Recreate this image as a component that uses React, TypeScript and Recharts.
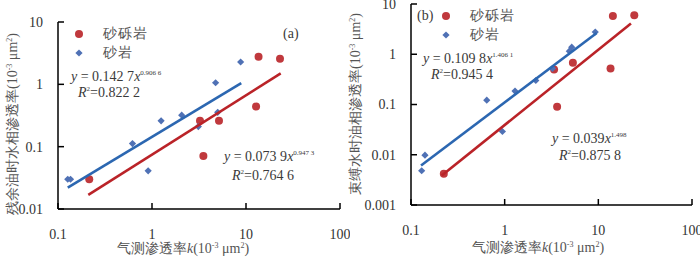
import React from 'react';
import { ScatterChart, Scatter, XAxis, YAxis, Legend } from 'recharts';

// gas-measured permeability k (10^-3 μm²)
const xTicks = [0.1, 1, 10, 100];
const yTicksA = [0.01, 0.1, 1, 10];
const yTicksB = [0.001, 0.01, 0.1, 1, 10];

// (a) water relative permeability at residual oil
const gravelKA = [0.215, 3.24, 3.52, 5.16, 12.8, 13.6, 23.0];
const gravelKwA = [0.03, 0.26, 0.071, 0.26, 0.44, 2.78, 2.58];
const sandKA = [0.127, 0.136, 0.62, 0.91, 1.25, 2.07, 3.11, 4.75, 5.0, 8.77];
const sandKwA = [0.03, 0.03, 0.112, 0.041, 0.26, 0.32, 0.21, 1.06, 0.356, 2.28];
const sandFitXA = [0.127, 8.9];
const sandFitYA = [0.022, 1.05];
const gravelFitXA = [0.21, 23.4];
const gravelFitYA = [0.0168, 1.5];

// (b) oil relative permeability at irreducible water
const gravelKB = [0.224, 3.37, 3.63, 5.35, 13.5, 14.3, 24.2];
const gravelKoB = [0.0042, 0.5, 0.09, 0.68, 0.52, 5.77, 5.95];
const sandKB = [0.13, 0.141, 0.644, 0.946, 1.29, 2.15, 3.24, 4.9, 5.2, 9.27];
const sandKoB = [0.0048, 0.0098, 0.122, 0.029, 0.185, 0.3, 0.52, 1.15, 1.38, 2.77];
const sandFitXB = [0.128, 9.6];
const sandFitYB = [0.0061, 2.64];
const gravelFitXB = [0.213, 22.3];
const gravelFitYB = [0.00385, 4.08];

const RED = '#C0393D';
const BLUE = '#4F71B5';
const RED_LINE = '#BA2328';
const BLUE_LINE = '#2C67B1';
const FONT = '"Liberation Serif"';
const TXT = '#3a3a3a';

const zip = (xs: number[], ys: number[]) => xs.map((x, i) => ({ x, y: ys[i] }));

const Dot = (p: any) => <circle cx={p.cx} cy={p.cy} r={4} fill={RED} />;
const Diamond = (p: any) => (
  <polygon
    points={`${p.cx},${p.cy - 3.6} ${p.cx + 3.6},${p.cy} ${p.cx},${p.cy + 3.6} ${p.cx - 3.6},${p.cy}`}
    fill={BLUE}
  />
);
const NoShape = () => <g />;

const rowStyle: React.CSSProperties = {
  display: 'flex',
  alignItems: 'center',
  whiteSpace: 'nowrap',
  height: 19,
};

const LegendBox = ({ tag }: { tag?: string }) => (
  <div style={{ fontFamily: FONT, fontSize: 14, color: '#555', lineHeight: '19px', width: 120 }}>
    <div style={rowStyle}>
      {tag && <span style={{ width: 24, flexShrink: 0, color: TXT }}>{tag}</span>}
      <svg width={10} height={10} style={{ flexShrink: 0 }}>
        <circle cx={5} cy={5} r={4} fill={RED} />
      </svg>
      <span style={{ marginLeft: 19, letterSpacing: 1 }}>砂砾岩</span>
    </div>
    <div style={rowStyle}>
      {tag && <span style={{ width: 24, flexShrink: 0 }} />}
      <svg width={10} height={10} style={{ flexShrink: 0 }}>
        <polygon points="5,1.4 8.6,5 5,8.6 1.4,5" fill={BLUE} />
      </svg>
      <span style={{ marginLeft: 19, letterSpacing: 1 }}>砂岩</span>
    </div>
  </div>
);

const axisLine = { stroke: '#000', strokeWidth: 1.5 };
const tickStyle = { fill: '#333', fontSize: 14, fontFamily: FONT };

interface PanelProps {
  gravel: { x: number; y: number }[];
  sand: { x: number; y: number }[];
  gravelFit: { x: number; y: number }[];
  sandFit: { x: number; y: number }[];
  yTicks: number[];
  margin: { top: number; right: number; left: number; bottom: number };
  yWidth: number;
  xHeight: number;
  xTickMargin: number;
  legend: React.ReactNode;
  legendPos: { left: number; top: number };
}

function Panel(p: PanelProps) {
  return (
    <ScatterChart width={350} height={257} margin={p.margin}>
      <XAxis
        type="number"
        dataKey="x"
        scale="log"
        domain={[0.1, 100]}
        ticks={xTicks}
        allowDataOverflow
        height={p.xHeight}
        axisLine={axisLine}
        tickLine={axisLine}
        tickSize={-6}
        tickMargin={p.xTickMargin}
        tick={tickStyle}
        interval={0}
      />
      <YAxis
        type="number"
        dataKey="y"
        scale="log"
        domain={[p.yTicks[0], p.yTicks[p.yTicks.length - 1]]}
        ticks={p.yTicks}
        allowDataOverflow
        width={p.yWidth}
        axisLine={axisLine}
        tickLine={axisLine}
        tickSize={-6}
        tickMargin={21}
        tick={tickStyle}
        interval={0}
      />
      {/* centred legend reserves no plot space; it is placed by wrapperStyle */}
      <Legend
        layout="vertical"
        verticalAlign="middle"
        align="center"
        wrapperStyle={{ left: p.legendPos.left, top: p.legendPos.top, width: 140 }}
        content={() => p.legend}
      />
      <Scatter name="砂砾岩" data={p.gravel} shape={Dot} isAnimationActive={false} />
      <Scatter name="砂岩" data={p.sand} shape={Diamond} isAnimationActive={false} />
      <Scatter
        data={p.sandFit}
        line={{ stroke: BLUE_LINE, strokeWidth: 2.6 }}
        shape={NoShape}
        legendType="none"
        isAnimationActive={false}
      />
      <Scatter
        data={p.gravelFit}
        line={{ stroke: RED_LINE, strokeWidth: 2.6 }}
        shape={NoShape}
        legendType="none"
        isAnimationActive={false}
      />
    </ScatterChart>
  );
}

const Unit = () => (
  <>
    (10<tspan dy={-5} fontSize={8}>-3</tspan>
    <tspan dy={5}> μm</tspan>
    <tspan dy={-5} fontSize={8}>2</tspan>
    <tspan dy={5}>)</tspan>
  </>
);

export default function App() {
  return (
    <div style={{ position: 'absolute', left: 0, top: 0, width: 700, height: 257, background: '#fff' }}>
      <div style={{ position: 'absolute', left: 0, top: 0 }}>
        <Panel
          gravel={zip(gravelKA, gravelKwA)}
          sand={zip(sandKA, sandKwA)}
          gravelFit={zip(gravelFitXA, gravelFitYA)}
          sandFit={zip(sandFitXA, sandFitYA)}
          yTicks={yTicksA}
          margin={{ top: 22, right: 10, left: 8, bottom: 0 }}
          yWidth={50}
          xHeight={48}
          xTickMargin={26}
          legend={<LegendBox />}
          legendPos={{ left: 74, top: 24 }}
        />
      </div>
      <div style={{ position: 'absolute', left: 350, top: 0 }}>
        <Panel
          gravel={zip(gravelKB, gravelKoB)}
          sand={zip(sandKB, sandKoB)}
          gravelFit={zip(gravelFitXB, gravelFitYB)}
          sandFit={zip(sandFitXB, sandFitYB)}
          yTicks={yTicksB}
          margin={{ top: 4, right: 8, left: 11, bottom: 0 }}
          yWidth={50}
          xHeight={52}
          xTickMargin={26}
          legend={<LegendBox tag="(b)" />}
          legendPos={{ left: 67, top: 6 }}
        />
      </div>
      <svg
        width={700}
        height={257}
        style={{ position: 'absolute', left: 0, top: 0, pointerEvents: 'none', fontFamily: FONT }}
        fontSize={14}
        fill={TXT}
      >
        {/* panel (a) */}
        <text x={283} y={38}>(a)</text>
        <text x={71} y={81}>
          <tspan fontStyle="italic">y</tspan> = 0.142 7<tspan fontStyle="italic">x</tspan>
          <tspan dy={-6} fontSize={7}>0.906 6</tspan>
        </text>
        <text x={78} y={97}>
          <tspan fontStyle="italic">R</tspan>
          <tspan dy={-6} fontSize={7}>2</tspan>
          <tspan dy={6}>=0.822 2</tspan>
        </text>
        <text x={224} y={161}>
          <tspan fontStyle="italic">y</tspan> = 0.073 9<tspan fontStyle="italic">x</tspan>
          <tspan dy={-6} fontSize={7}>0.947 3</tspan>
        </text>
        <text x={232} y={180}>
          <tspan fontStyle="italic">R</tspan>
          <tspan dy={-6} fontSize={7}>2</tspan>
          <tspan dy={6}>=0.764 6</tspan>
        </text>
        <text x={183} y={253} textAnchor="middle" fill="#555">
          气测渗透率<tspan fontStyle="italic">k</tspan>
          <Unit />
        </text>
        <text transform="translate(17,124) rotate(-90)" textAnchor="middle" fill="#555">
          残余油时水相渗透率<Unit />
        </text>

        {/* panel (b) */}
        <text x={423} y={63}>
          <tspan fontStyle="italic">y</tspan> = 0.109 8<tspan fontStyle="italic">x</tspan>
          <tspan dy={-6} fontSize={7}>1.406 1</tspan>
        </text>
        <text x={431} y={79}>
          <tspan fontStyle="italic">R</tspan>
          <tspan dy={-6} fontSize={7}>2</tspan>
          <tspan dy={6}>=0.945 4</tspan>
        </text>
        <text x={552} y={143}>
          <tspan fontStyle="italic">y</tspan> = 0.039<tspan fontStyle="italic">x</tspan>
          <tspan dy={-6} fontSize={7}>1.498</tspan>
        </text>
        <text x={559} y={160}>
          <tspan fontStyle="italic">R</tspan>
          <tspan dy={-6} fontSize={7}>2</tspan>
          <tspan dy={6}>=0.875 8</tspan>
        </text>
        <text x={538} y={252} textAnchor="middle" fill="#555">
          气测渗透率<tspan fontStyle="italic">k</tspan>
          <Unit />
        </text>
        <text transform="translate(360,104) rotate(-90)" textAnchor="middle" fill="#555">
          束缚水时油相渗透率<Unit />
        </text>
      </svg>
    </div>
  );
}
